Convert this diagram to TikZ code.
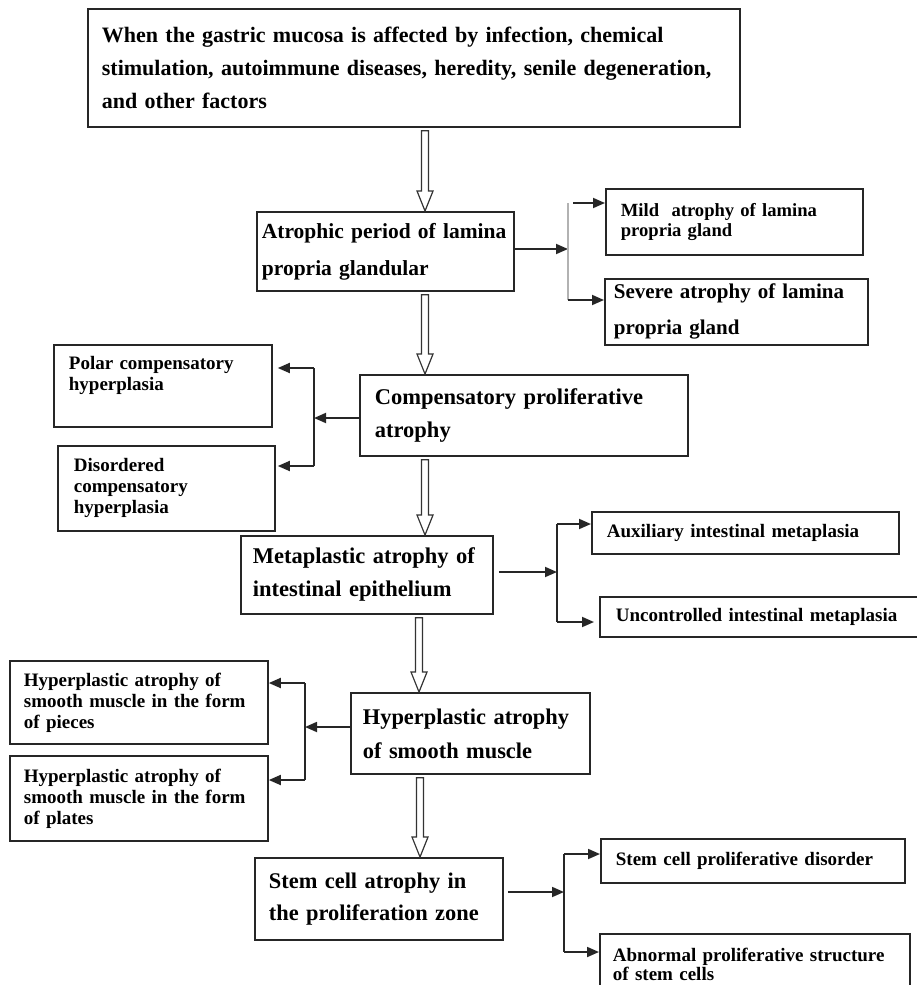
\documentclass[tikz,border=0pt]{standalone}
\usepackage{fontspec}
\setmainfont{Liberation Serif}
\usetikzlibrary{positioning,arrows.meta,calc}

% open (outlined) arrow pointing down, from #1.south to #2.north at x = #3
\newcommand{\hollowdown}[3]{%
  \coordinate (ha) at (#3,0);
  \coordinate (hs) at ($(#1.south -| ha)+(0,3)$);
  \coordinate (he) at (#2.north -| ha);
  \draw[hollow] ($(hs)+(-3.5,0)$) -- ($(he)+(-3.5,-20)$) -- ($(he)+(-8,-20)$)
    -- (he) -- ($(he)+(8,-20)$) -- ($(he)+(3.5,-20)$) -- ($(hs)+(3.5,0)$) -- cycle;
}

\begin{document}
\begin{tikzpicture}[
    x=1pt, y=-1pt,
    >={Triangle[length=12pt,width=10pt]},
    box/.style    ={draw=black!85, line width=1.8pt, align=left,
                    inner ysep=0pt, anchor=north west},
    mainbox/.style={box, font=\bfseries\fontsize{22}{33}\selectfont},
    sidebox/.style={box, font=\bfseries\fontsize{19}{21}\selectfont},
    boxsize/.code n args={3}{%
        \pgfmathsetmacro\boxtw{#1-2*#3}%
        \edef\boxtmp{\noexpand\tikzset{minimum width=#1pt, minimum height=#2pt,
            inner xsep=#3pt, text width=\boxtw pt}}\boxtmp},
    arr/.style={->, line width=1.8pt, black!85},
    brace/.style={line width=1.8pt, black!85},
    hollow/.style={draw=black!80, line width=1.2pt, fill=white},
]
\useasboundingbox (0,0) rectangle (917,985);
\clip (0,0) rectangle (917,985);

% =========================================================
% Centre column: stages of atrophy (top -> bottom)
% =========================================================
\node[mainbox, boxsize={652}{118}{14}] (cause) at (87,8)
    {When the gastric mucosa is affected by infection, chemical\\
     stimulation, autoimmune diseases, heredity, senile degeneration,\\
     and other factors};
\node[mainbox, boxsize={257}{79}{5}, font=\bfseries\fontsize{21.5}{37}\selectfont]
    (lamina) at (256,211) {Atrophic period of lamina\\propria glandular};
\node[mainbox, boxsize={328}{81}{15}, font=\bfseries\fontsize{22.5}{33}\selectfont]
    (compens) at (359,374) {Compensatory proliferative\\atrophy};
\node[mainbox, boxsize={252}{78}{12}, font=\bfseries\fontsize{22.5}{33}\selectfont]
    (metapl) at (240,535) {Metaplastic atrophy of\\intestinal epithelium};
\node[mainbox, boxsize={239}{81}{12}, font=\bfseries\fontsize{22.4}{34}\selectfont]
    (hyperpl) at (350,692) {Hyperplastic atrophy\\of smooth muscle};
\node[mainbox, boxsize={248}{82}{14}, font=\bfseries\fontsize{22.4}{32}\selectfont]
    (stem) at (254,857) {Stem cell atrophy in\\the proliferation zone};

% Centre arrows
\hollowdown{cause}{lamina}{425}
\hollowdown{lamina}{compens}{425}
\hollowdown{compens}{metapl}{425}
\hollowdown{metapl}{hyperpl}{419}
\hollowdown{hyperpl}{stem}{420}

% =========================================================
% Side boxes
% =========================================================
\node[sidebox, boxsize={257}{66}{15}, font=\bfseries\fontsize{18.6}{20}\selectfont]
    (mild) at (605,188) {Mild\ \ atrophy of lamina\\propria gland};
\node[sidebox, boxsize={263}{66}{9}, font=\bfseries\fontsize{21}{36}\selectfont]
    (severe) at (604,278) {Severe atrophy of lamina\\propria gland};
\node[sidebox, boxsize={218}{82}{15}, text height=25pt, text depth=57pt]
    (polar) at (53,344) {Polar compensatory\\hyperplasia};
\node[sidebox, boxsize={217}{85}{16}]
    (disord) at (57,445) {Disordered\\compensatory\\hyperplasia};
\node[sidebox, boxsize={307}{42}{15}]
    (auxil) at (591,511) {Auxiliary intestinal metaplasia};
\node[sidebox, boxsize={330}{40}{16}]
    (uncontr) at (599,596) {Uncontrolled intestinal metaplasia};
\node[sidebox, boxsize={258}{83}{14}]
    (pieces) at (9,660) {Hyperplastic atrophy of\\smooth muscle in the form\\of pieces};
\node[sidebox, boxsize={258}{85}{14}]
    (plates) at (9,755) {Hyperplastic atrophy of\\smooth muscle in the form\\of plates};
\node[sidebox, boxsize={304}{44}{15}]
    (prolif) at (600,838) {Stem cell proliferative disorder};
\node[sidebox, boxsize={310}{61}{13}, font=\bfseries\fontsize{19}{19}\selectfont]
    (abnorm) at (599,933) {Abnormal proliferative structure\\of stem cells};

% =========================================================
% Branch connectors
% =========================================================
\coordinate (jA) at (568,249); \coordinate (jAt) at (568,203); \coordinate (jAb) at (568,300);
\draw[arr] (jA -| lamina.east) -- (jA);
\draw[brace, gray!60] (jAt) -- (jAb);
\draw[arr] ($(jAt)+(5,0)$) -- (jAt -| mild.west);
\draw[arr] (jAb) -- (jAb -| severe.west);

\coordinate (jB) at (314,418); \coordinate (jBt) at (314,368); \coordinate (jBb) at (314,466);
\draw[arr] (jB -| compens.west) -- (jB);
\draw[brace] (jBt) -- (jBb);
\draw[arr, shorten >=5pt] (jBt) -- (jBt -| polar.east);
\draw[arr, shorten >=2pt] (jBb) -- (jBb -| disord.east);

\coordinate (jC) at (557,572); \coordinate (jCt) at (557,524); \coordinate (jCb) at (557,622);
\draw[arr, shorten <=5pt] (jC -| metapl.east) -- (jC);
\draw[brace] (jCt) -- (jCb);
\draw[arr] (jCt) -- (jCt -| auxil.west);
\draw[arr, shorten >=5pt] (jCb) -- (jCb -| uncontr.west);

\coordinate (jD) at (305,727); \coordinate (jDt) at (305,683); \coordinate (jDb) at (305,780);
\draw[arr] (jD -| hyperpl.west) -- (jD);
\draw[brace] (jDt) -- (jDb);
\draw[arr] (jDt) -- (jDt -| pieces.east);
\draw[arr] (jDb) -- (jDb -| plates.east);

\coordinate (jE) at (564,892); \coordinate (jEt) at (564,854); \coordinate (jEb) at (564,952);
\draw[arr, shorten <=4pt] (jE -| stem.east) -- (jE);
\draw[brace] (jEt) -- (jEb);
\draw[arr] (jEt) -- (jEt -| prolif.west);
\draw[arr] (jEb) -- (jEb -| abnorm.west);

\end{tikzpicture}
\end{document}
